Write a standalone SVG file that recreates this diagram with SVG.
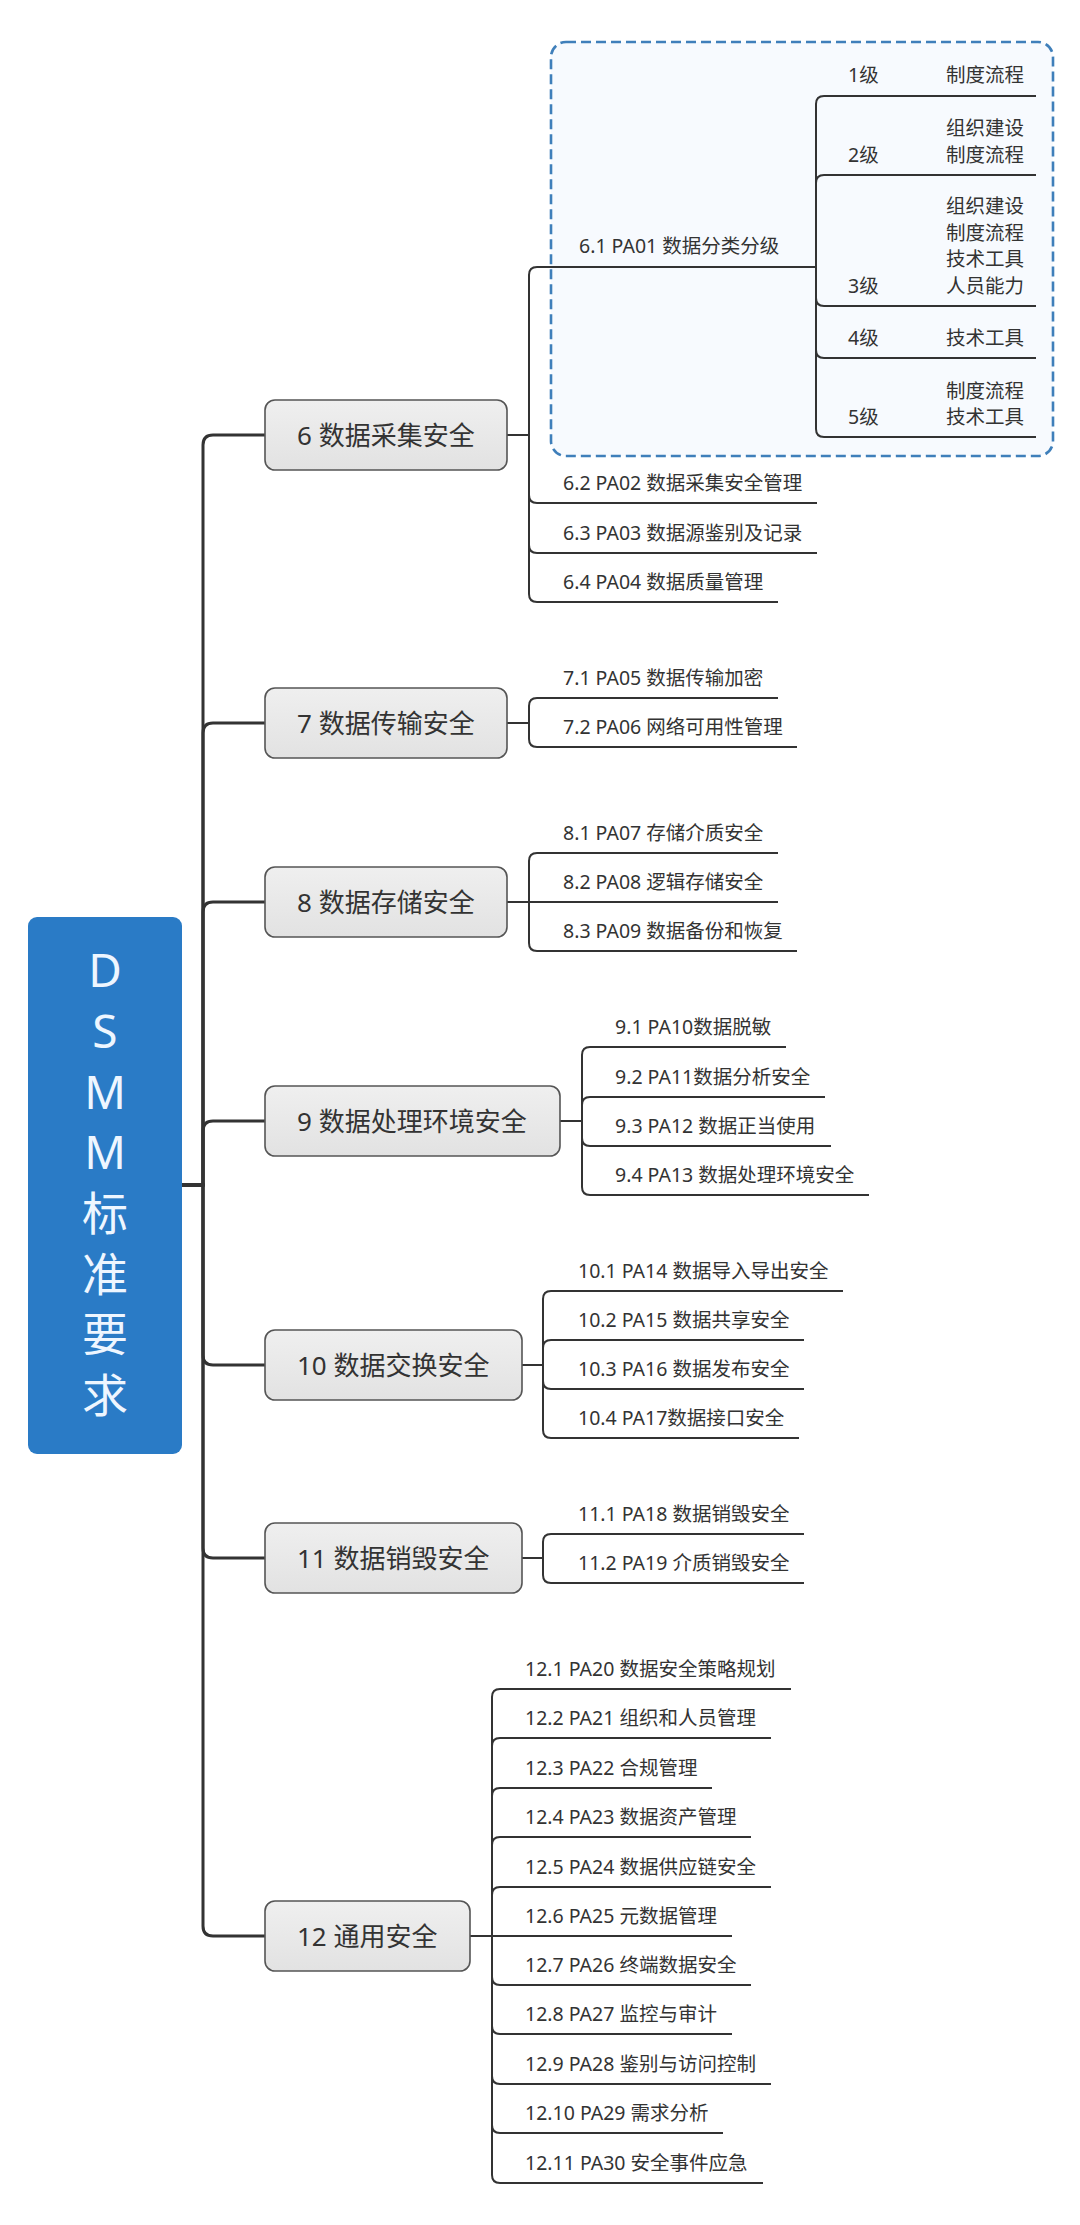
<svg xmlns="http://www.w3.org/2000/svg" width="1080" height="2225" viewBox="0 0 1080 2225">
<defs>
<linearGradient id="ng" x1="0" y1="0" x2="0" y2="1">
<stop offset="0" stop-color="#efefef"/>
<stop offset="1" stop-color="#e2e2e2"/>
</linearGradient>
<style>
text{font-family:"Noto Sans","Noto Sans CJK SC",sans-serif;fill:#333}
.t{font-size:19.5px}
.n{font-size:26px}
.r{font-size:46px;fill:#eef6ff;text-anchor:middle}
.node{fill:url(#ng);stroke:#555;stroke-width:1.6}
.c{fill:none;stroke:#333;stroke-width:2}
.trunk{fill:none;stroke:#333;stroke-width:3}
</style>
</defs>
<rect width="1080" height="2225" fill="#fff"/>

<g id="boundary">
<rect x="551" y="42" width="502" height="414" rx="15" fill="#f7fafe" stroke="#3f7fba" stroke-width="2.6" stroke-dasharray="10 5"/>
</g>

<g id="connectors">
<path class="trunk" d="M182,1185 H203 V445 Q203,435 213,435 H265"/>
<path class="trunk" d="M182,1185 H203 V733 Q203,723 213,723 H265"/>
<path class="trunk" d="M182,1185 H203 V912 Q203,902 213,902 H265"/>
<path class="trunk" d="M182,1185 H203 V1131 Q203,1121 213,1121 H265"/>
<path class="trunk" d="M182,1185 H203 V1355 Q203,1365 213,1365 H265"/>
<path class="trunk" d="M182,1185 H203 V1548 Q203,1558 213,1558 H265"/>
<path class="trunk" d="M182,1185 H203 V1926 Q203,1936 213,1936 H265"/>

<path class="c" d="M507,435 H529 V275 Q529,267 537,267 H816"/>
<path class="c" d="M507,435 H529 V495 Q529,503 537,503 H817"/>
<path class="c" d="M507,435 H529 V545 Q529,553 537,553 H817"/>
<path class="c" d="M507,435 H529 V594 Q529,602 537,602 H778"/>

<path class="c" d="M816,267 V104 Q816,96 824,96 H1036"/>
<path class="c" d="M816,267 V183 Q816,175 824,175 H1036"/>
<path class="c" d="M816,267 V298 Q816,306 824,306 H1036"/>
<path class="c" d="M816,267 V350 Q816,358 824,358 H1036"/>
<path class="c" d="M816,267 V429 Q816,437 824,437 H1036"/>

<path class="c" d="M507,723 H529 V706 Q529,698 537,698 H778"/>
<path class="c" d="M507,723 H529 V739 Q529,747 537,747 H797"/>

<path class="c" d="M507,902 H529 V861 Q529,853 537,853 H778"/>
<path class="c" d="M507,902 H778"/>
<path class="c" d="M507,902 H529 V943 Q529,951 537,951 H797"/>

<path class="c" d="M560,1121 H582 V1055 Q582,1047 590,1047 H786"/>
<path class="c" d="M560,1121 H582 V1105 Q582,1097 590,1097 H825"/>
<path class="c" d="M560,1121 H582 V1138 Q582,1146 590,1146 H831"/>
<path class="c" d="M560,1121 H582 V1187 Q582,1195 590,1195 H869"/>

<path class="c" d="M522,1365 H543 V1299 Q543,1291 551,1291 H843"/>
<path class="c" d="M522,1365 H543 V1348 Q543,1340 551,1340 H804"/>
<path class="c" d="M522,1365 H543 V1381 Q543,1389 551,1389 H804"/>
<path class="c" d="M522,1365 H543 V1430 Q543,1438 551,1438 H799"/>

<path class="c" d="M522,1558 H543 V1542 Q543,1534 551,1534 H804"/>
<path class="c" d="M522,1558 H543 V1575 Q543,1583 551,1583 H804"/>

<path class="c" d="M470,1936 H492 V1697 Q492,1689 500,1689 H791"/>
<path class="c" d="M470,1936 H492 V1746 Q492,1738 500,1738 H771"/>
<path class="c" d="M470,1936 H492 V1796 Q492,1788 500,1788 H712"/>
<path class="c" d="M470,1936 H492 V1845 Q492,1837 500,1837 H751"/>
<path class="c" d="M470,1936 H492 V1895 Q492,1887 500,1887 H771"/>
<path class="c" d="M470,1936 H732"/>
<path class="c" d="M470,1936 H492 V1977 Q492,1985 500,1985 H751"/>
<path class="c" d="M470,1936 H492 V2026 Q492,2034 500,2034 H732"/>
<path class="c" d="M470,1936 H492 V2076 Q492,2084 500,2084 H771"/>
<path class="c" d="M470,1936 H492 V2125 Q492,2133 500,2133 H723"/>
<path class="c" d="M470,1936 H492 V2175 Q492,2183 500,2183 H763"/>
</g>

<g id="root">
<rect x="28" y="917" width="154" height="537" rx="9" fill="#2a7bc6"/>
<text class="r" x="105" y="987">D</text>
<text class="r" x="105" y="1048">S</text>
<text class="r" x="105" y="1109">M</text>
<text class="r" x="105" y="1169">M</text>
<text class="r" x="105" y="1230">标</text>
<text class="r" x="105" y="1291">准</text>
<text class="r" x="105" y="1351">要</text>
<text class="r" x="105" y="1412">求</text>
</g>

<g id="n6"><rect class="node" x="265" y="400" width="242" height="70" rx="10"/><text class="n" x="297" y="444.5">6 数据采集安全</text></g>
<g id="n7"><rect class="node" x="265" y="688" width="242" height="70" rx="10"/><text class="n" x="297" y="732.5">7 数据传输安全</text></g>
<g id="n8"><rect class="node" x="265" y="867" width="242" height="70" rx="10"/><text class="n" x="297" y="911.5">8 数据存储安全</text></g>
<g id="n9"><rect class="node" x="265" y="1086" width="295" height="70" rx="10"/><text class="n" x="297" y="1130.5">9 数据处理环境安全</text></g>
<g id="n10"><rect class="node" x="265" y="1330" width="257" height="70" rx="10"/><text class="n" x="297" y="1374.5">10 数据交换安全</text></g>
<g id="n11"><rect class="node" x="265" y="1523" width="257" height="70" rx="10"/><text class="n" x="297" y="1567.5">11 数据销毁安全</text></g>
<g id="n12"><rect class="node" x="265" y="1901" width="205" height="70" rx="10"/><text class="n" x="297" y="1945.5">12 通用安全</text></g>

<g id="n6-1"><text class="t" x="579" y="253">6.1 PA01 数据分类分级</text></g>
<g id="l1"><text class="t" x="848" y="82">1级</text><text class="t" x="946" y="82">制度流程</text></g>
<g id="l2"><text class="t" x="946" y="135">组织建设</text><text class="t" x="946" y="161.5">制度流程</text><text class="t" x="848" y="161.5">2级</text></g>
<g id="l3"><text class="t" x="946" y="213">组织建设</text><text class="t" x="946" y="239.5">制度流程</text><text class="t" x="946" y="266">技术工具</text><text class="t" x="946" y="292.5">人员能力</text><text class="t" x="848" y="292.5">3级</text></g>
<g id="l4"><text class="t" x="848" y="345">4级</text><text class="t" x="946" y="345">技术工具</text></g>
<g id="l5"><text class="t" x="946" y="397.5">制度流程</text><text class="t" x="946" y="424">技术工具</text><text class="t" x="848" y="424">5级</text></g>
<g id="n6-2"><text class="t" x="563" y="490">6.2 PA02 数据采集安全管理</text></g>
<g id="n6-3"><text class="t" x="563" y="540">6.3 PA03 数据源鉴别及记录</text></g>
<g id="n6-4"><text class="t" x="563" y="589">6.4 PA04 数据质量管理</text></g>

<g id="n7-1"><text class="t" x="563" y="685">7.1 PA05 数据传输加密</text></g>
<g id="n7-2"><text class="t" x="563" y="734">7.2 PA06 网络可用性管理</text></g>

<g id="n8-1"><text class="t" x="563" y="840">8.1 PA07 存储介质安全</text></g>
<g id="n8-2"><text class="t" x="563" y="889">8.2 PA08 逻辑存储安全</text></g>
<g id="n8-3"><text class="t" x="563" y="938">8.3 PA09 数据备份和恢复</text></g>

<g id="n9-1"><text class="t" x="615" y="1034">9.1 PA10数据脱敏</text></g>
<g id="n9-2"><text class="t" x="615" y="1084">9.2 PA11数据分析安全</text></g>
<g id="n9-3"><text class="t" x="615" y="1133">9.3 PA12 数据正当使用</text></g>
<g id="n9-4"><text class="t" x="615" y="1182">9.4 PA13 数据处理环境安全</text></g>

<g id="n10-1"><text class="t" x="578" y="1278">10.1 PA14 数据导入导出安全</text></g>
<g id="n10-2"><text class="t" x="578" y="1327">10.2 PA15 数据共享安全</text></g>
<g id="n10-3"><text class="t" x="578" y="1376">10.3 PA16 数据发布安全</text></g>
<g id="n10-4"><text class="t" x="578" y="1425">10.4 PA17数据接口安全</text></g>

<g id="n11-1"><text class="t" x="578" y="1521">11.1 PA18 数据销毁安全</text></g>
<g id="n11-2"><text class="t" x="578" y="1570">11.2 PA19 介质销毁安全</text></g>

<g id="n12-1"><text class="t" x="525" y="1676">12.1 PA20 数据安全策略规划</text></g>
<g id="n12-2"><text class="t" x="525" y="1725">12.2 PA21 组织和人员管理</text></g>
<g id="n12-3"><text class="t" x="525" y="1775">12.3 PA22 合规管理</text></g>
<g id="n12-4"><text class="t" x="525" y="1824">12.4 PA23 数据资产管理</text></g>
<g id="n12-5"><text class="t" x="525" y="1874">12.5 PA24 数据供应链安全</text></g>
<g id="n12-6"><text class="t" x="525" y="1923">12.6 PA25 元数据管理</text></g>
<g id="n12-7"><text class="t" x="525" y="1972">12.7 PA26 终端数据安全</text></g>
<g id="n12-8"><text class="t" x="525" y="2021">12.8 PA27 监控与审计</text></g>
<g id="n12-9"><text class="t" x="525" y="2071">12.9 PA28 鉴别与访问控制</text></g>
<g id="n12-10"><text class="t" x="525" y="2120">12.10 PA29 需求分析</text></g>
<g id="n12-11"><text class="t" x="525" y="2170">12.11 PA30 安全事件应急</text></g>
</svg>
